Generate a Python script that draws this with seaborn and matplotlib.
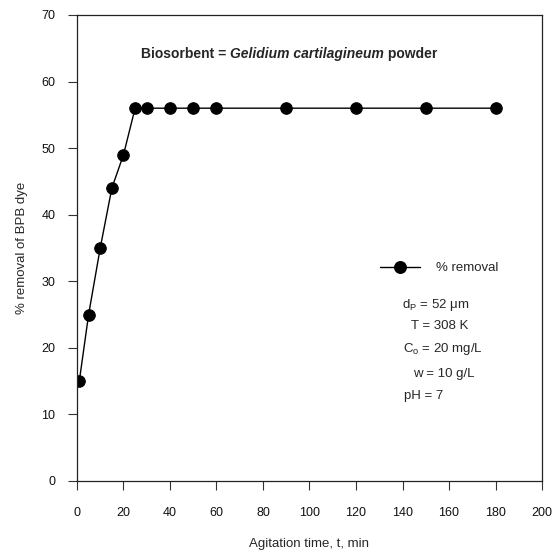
import matplotlib
matplotlib.use("Agg")
import matplotlib.pyplot as plt
import seaborn as sns
import pandas as pd
from matplotlib.lines import Line2D
from matplotlib.transforms import offset_copy

# data
time_min = [1, 5, 10, 15, 20, 25, 30, 40, 50, 60, 90, 120, 150, 180]
removal_pct = [15, 25, 35, 44, 49, 56, 56, 56, 56, 56, 56, 56, 56, 56]
x_ticks = [0, 20, 40, 60, 80, 100, 120, 140, 160, 180, 200]
y_ticks = [0, 10, 20, 30, 40, 50, 60, 70]

df = pd.DataFrame({"t": time_min, "r": removal_pct})

sns.set_theme(style="white")
plt.rcParams["font.family"] = ["Liberation Sans", "DejaVu Sans"]
plt.rcParams["mathtext.fontset"] = "custom"
plt.rcParams["mathtext.rm"] = "Liberation Sans"
plt.rcParams["mathtext.it"] = "Liberation Sans:italic"

fig = plt.figure(figsize=(5.55, 5.53), dpi=100)
ax = fig.add_axes([0.1387, 0.1302, 0.8379, 0.8427])

sns.lineplot(data=df, x="t", y="r", ax=ax, color="black", linewidth=1.0,
             marker="o", markersize=8.3, markeredgecolor="black",
             markerfacecolor="black", legend=False)

ax.set_xlim(0, 200)
ax.set_ylim(0, 70)
ax.set_xticks(x_ticks)
ax.set_yticks(y_ticks)
ax.tick_params(axis="both", direction="out", length=6.5, width=0.8,
               color="#333333", labelsize=9, labelcolor="#111111",
               bottom=True, left=True)
ax.tick_params(axis="x", pad=12)
ax.tick_params(axis="y", pad=9)
for s in ax.spines.values():
    s.set_visible(True)
    s.set_color("#222222")
    s.set_linewidth(0.9)

ax.set_xlabel("Agitation time, t, min", fontsize=9.5, labelpad=14)
ax.set_ylabel("% removal of BPB dye", fontsize=9.5, labelpad=10)

# title pieces, laid out side by side
fig.canvas.draw()
renderer = fig.canvas.get_renderer()
pieces = [("Biosorbent = ", "normal"), ("Gelidium cartilagineum", "italic"), (" powder", "normal")]
tsize = 10
texts = []
for s, st in pieces:
    t = ax.text(0, 0, s, fontsize=tsize, fontweight="bold", fontstyle=st,
                va="center", ha="left")
    texts.append(t)
widths = [t.get_window_extent(renderer).width for t in texts]
total = sum(widths)
# centre the whole line on the reference span (x 97..481 px, y 54 px)
x0_px = 289 - total / 2
y_disp = fig.bbox.height - 54
cur = x0_px
for t, w in zip(texts, widths):
    t.set_transform(matplotlib.transforms.IdentityTransform())
    t.set_position((cur, y_disp))
    cur += w

# legend
handle = Line2D([], [], color="black", linewidth=1.0, marker="o",
                markersize=8.3, markerfacecolor="black")
ax.legend([handle], ["% removal"], loc="center left",
          bbox_to_anchor=(0.652, 0.457), frameon=False, fontsize=9.5,
          borderpad=0, borderaxespad=0, handlelength=3.0, handletextpad=1.2,
          numpoints=1)

# conditions
ax.text(139.6, 26.4, r"d$_\mathregular{P}$ = 52 $\mathregular{\mu}$m", fontsize=9.5, va="center", ha="left")
ax.text(143.6, 23.3, "T = 308 K", fontsize=9.5, va="center", ha="left")
ax.text(140.2, 19.9, r"C$_\mathregular{o}$ = 20 mg/L", fontsize=9.5, va="center", ha="left")
ax.text(144.4, 16.1, "w = 10 g/L", fontsize=9.5, va="center", ha="left")
ax.text(140.6, 12.8, "pH = 7", fontsize=9.5, va="center", ha="left")

fig.savefig("out.png", dpi=100, facecolor="white")
